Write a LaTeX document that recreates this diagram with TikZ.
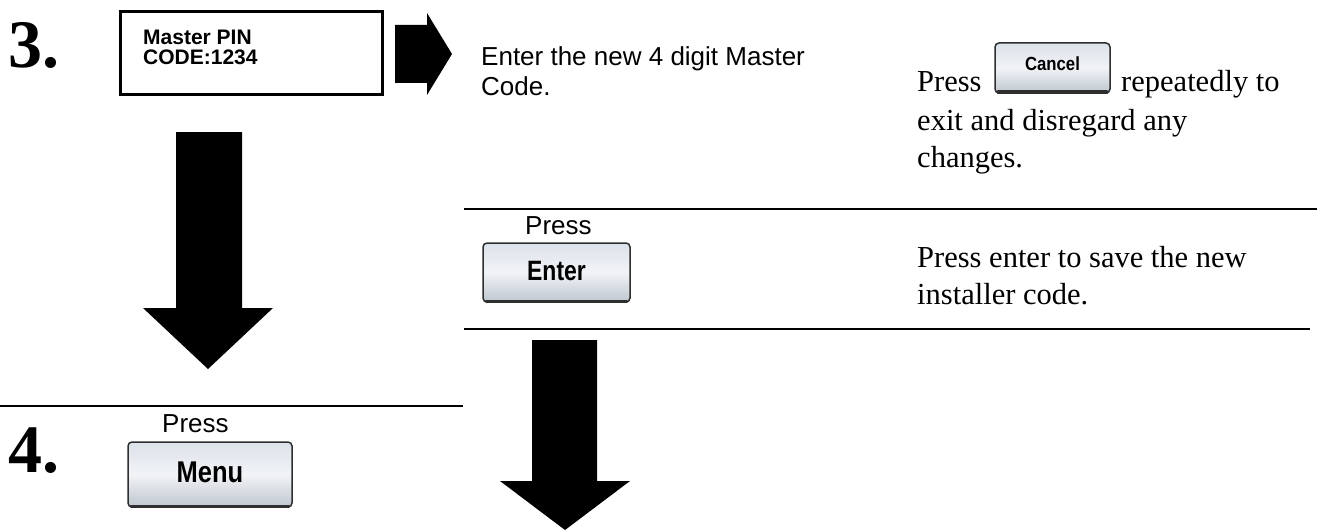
\documentclass[tikz,border=0pt]{standalone}
\usepackage{fontspec}
\setmainfont{Liberation Serif}
\setsansfont{Liberation Sans}
\usepackage{graphicx}
\usepackage{xcolor}
\usepackage{tikz}
\usetikzlibrary{positioning}
\definecolor{keytop}{HTML}{DCE2EA}
\definecolor{keymid}{HTML}{F1F3F6}
\definecolor{keybot}{HTML}{BFC6CF}
\definecolor{keyedge}{HTML}{2E2E2E}

\tikzset{
  stepnum/.style={anchor=base west,inner sep=0pt,font=\fontsize{68}{70}\selectfont\bfseries},
  sanstext/.style={anchor=base west,inner sep=0pt,font=\sffamily\fontsize{26}{30}\selectfont},
  serftext/.style={anchor=base west,inner sep=0pt,font=\fontsize{30.5}{37}\selectfont},
  lcdtext/.style={anchor=base west,inner sep=0pt,font=\sffamily\bfseries\fontsize{21}{21}\selectfont},
  lcdbox/.style={draw,line width=3pt,fill=white,inner sep=0pt},
  keybtn/.style={draw=keyedge,line width=1.5pt,rounded corners=4pt,top color=keytop,bottom color=keybot,middle color=keymid,inner sep=0pt,font=\sffamily\bfseries},
  rule/.style={line width=2pt},
  bigarrow/.style={fill=black}
}

\begin{document}
\begin{tikzpicture}[x=1pt,y=-1pt]
\useasboundingbox (0,0) rectangle (1324,532);

% step 3
\node[stepnum] (three) at (8,68) {3.};
\node[lcdbox,minimum width=262pt,minimum height=83pt] (lcd) at (251,53.5) {};
\node[lcdtext] (lcdone) at (143,45) {Master PIN};
\node[lcdtext] (lcdtwo) at (143,65) {CODE:1234};
\fill[bigarrow] (395,25) -- (427,25) -- (427,13) -- (452,54) -- (427,95) -- (427,83) -- (395,83) -- cycle;

\node[sanstext] (newone) at (481,66) {Enter the new 4 digit Master};
\node[sanstext] (newtwo) at (481,96) {Code.};

\node[serftext] (cancelpress) at (917,92) {Press};
\node[keybtn,minimum width=115pt,minimum height=50pt,font=\sffamily\bfseries\fontsize{19}{19}\selectfont] (cancelkey) at (1052.5,68) {\raisebox{8pt}{\scalebox{0.88}[1]{Cancel}}};
\node[serftext] (cancelrest) at (1121,92) {repeatedly to};
\node[serftext] (canceltwo) at (917,130) {exit and disregard any};
\node[serftext] (cancelthree) at (917,167) {changes.};

\draw[rule] (464,209) -- (1317,209);
\node[sanstext] (enterpress) at (525,234) {Press};
\node[keybtn,minimum width=147pt,minimum height=59pt,font=\sffamily\bfseries\fontsize{28}{28}\selectfont] (enterkey) at (556.5,272.5) {\raisebox{3pt}{\scalebox{0.82}[1]{Enter}}};
\node[serftext] (saveone) at (917,267) {Press enter to save the new};
\node[serftext] (savetwo) at (917,304) {installer code.};
\draw[rule] (464,329) -- (1310,329);

% down arrows
\fill[bigarrow] (176,132) -- (242,132) -- (242,308) -- (273,308) -- (208,369) -- (143,308) -- (176,308) -- cycle;
\fill[bigarrow] (532,340) -- (597,340) -- (597,481) -- (630,481) -- (565,530) -- (500,481) -- (532,481) -- cycle;

% step 4
\draw[rule] (0,406) -- (463,406);
\node[stepnum] (four) at (8,472) {4.};
\node[sanstext] (menupress) at (162,432) {Press};
\node[keybtn,minimum width=164pt,minimum height=65pt,font=\sffamily\bfseries\fontsize{30}{30}\selectfont] (menukey) at (210,474.5) {\raisebox{4pt}{\scalebox{0.85}[1]{Menu}}};

\foreach \k in {cancelkey,enterkey,menukey}
  \draw[keyedge,line width=3.5pt,line cap=round] ([xshift=4pt,yshift=1.5pt]\k.south west) -- ([xshift=-4pt,yshift=1.5pt]\k.south east);
\end{tikzpicture}
\end{document}
